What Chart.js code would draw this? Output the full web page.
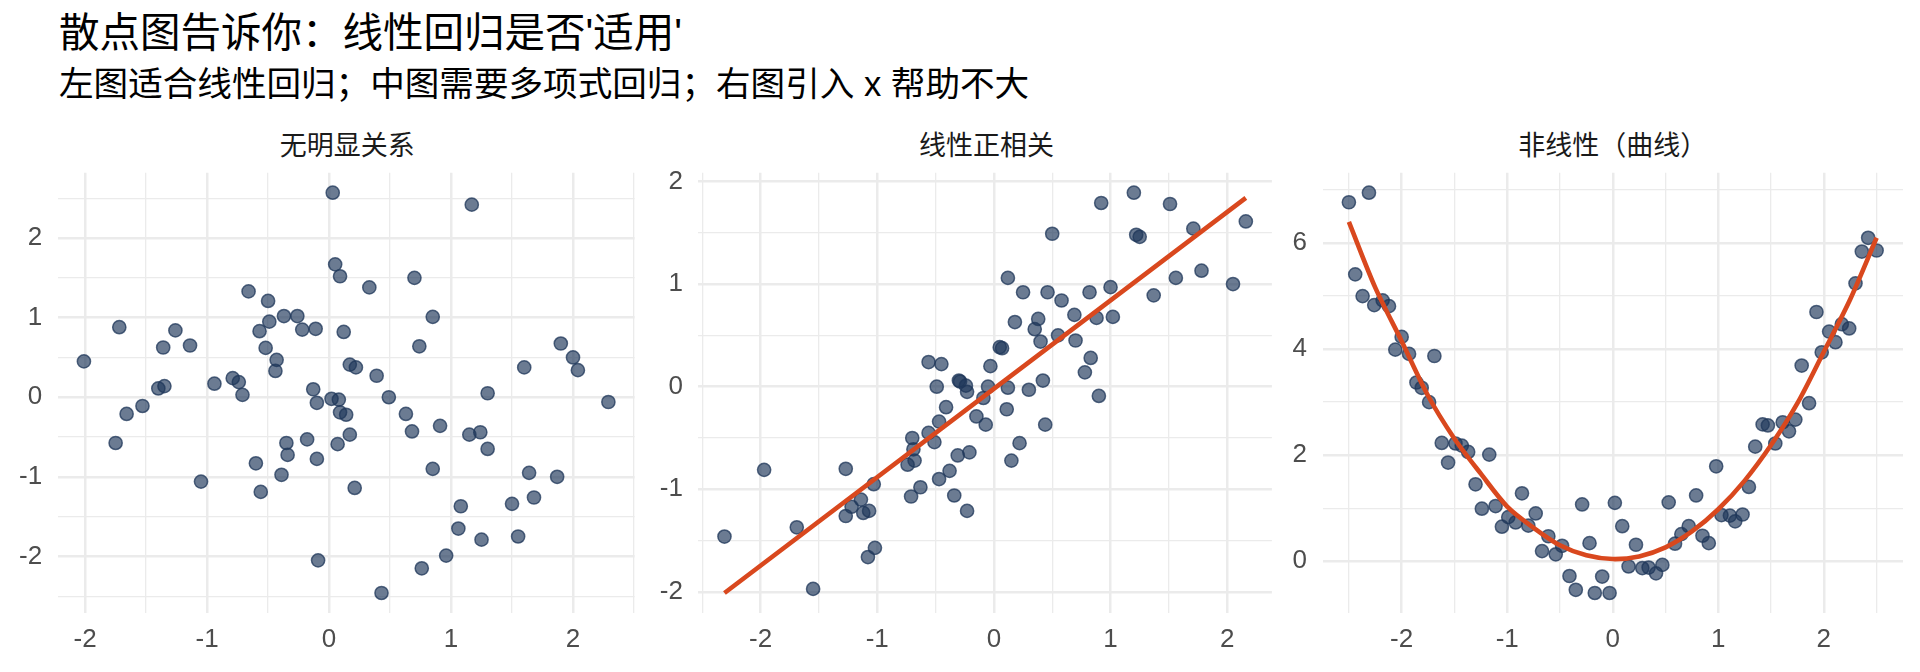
<!DOCTYPE html>
<html>
<head>
<meta charset="utf-8">
<script src="https://cdn.jsdelivr.net/npm/chart.js@4.4.1/dist/chart.umd.min.js"></script>
<style>
  body { margin: 0; width: 1920px; height: 672px; background: #fff; overflow: hidden; position: relative;
         font-family: 'Liberation Sans', 'Noto Sans CJK SC', sans-serif; }
  .t { position: absolute; white-space: nowrap; line-height: 1; }
  .strip { text-align: center; font-size: 27px; color: #1a1a1a; top: 133px; }
  canvas { position: absolute; top: 140px; }
</style>
</head>
<body>
<div class="t" style="left:59px;top:12.5px;font-size:40.5px;color:#000">散点图告诉你：线性回归是否'适用'</div>
<div class="t" style="left:59px;top:67px;font-size:34.6px;color:#000">左图适合线性回归；中图需要多项式回归；右图引入 x 帮助不大</div>
<div class="t strip" id="s1" style="left:57.7px;width:579.3px"></div>
<div class="t strip" id="s2" style="left:698.4px;width:576.1px"></div>
<div class="t strip" id="s3" style="left:1322.5px;width:580.5px"></div>

<canvas id="c1" width="645" height="532" style="left:0px"></canvas>
<canvas id="c2" width="635" height="532" style="left:645px"></canvas>
<canvas id="c3" width="640" height="532" style="left:1280px"></canvas>

<script>
// 面板标题
const panelTitles = ['无明显关系', '线性正相关', '非线性（曲线）'];

// 左图：无明显关系
const x1 = [0.03, 1.17, 0.05, 0.09, 0.70, 0.33, -0.66, -0.50, -0.49, -0.37, -0.26, 0.85, -1.72, -1.26, -0.57, -0.22, -0.11, 0.12,
  -1.36, -1.14, -0.52, 0.74, 1.90, -2.01, 2.00, -0.43, -0.44, 1.60, 0.17, 0.22, 2.04, 0.39, -0.79, -0.74, -0.94, -1.40, -1.35,
  -0.71, -0.13, 1.30, 0.49, 0.02, 0.08, -0.10, 2.29, -1.53, -1.66, 0.63, 0.09, 0.14, 0.91, 0.68, 1.15, 1.24, 0.17, -1.75, -0.35,
  -0.18, 0.07, 1.30, -0.34, -0.10, -0.60, 0.85, -0.39, 1.64, 1.87, -1.05, 0.21, -0.56, 1.68, 1.50, 1.08, 1.06, 1.55, 1.25, 0.96,
  -0.09, 0.76, 0.43];
const y1 = [2.57, 2.42, 1.67, 1.52, 1.50, 1.38, 1.33, 1.21, 0.95, 1.02, 1.02, 1.01, 0.88, 0.84, 0.83, 0.85, 0.86, 0.82,
  0.625, 0.65, 0.62, 0.64, 0.675, 0.45, 0.50, 0.47, 0.33, 0.375, 0.41, 0.375, 0.34, 0.27, 0.24, 0.19, 0.17, 0.11, 0.14,
  0.03, 0.10, 0.05, 0.00, -0.02, -0.03, -0.07, -0.06, -0.11, -0.21, -0.21, -0.19, -0.22, -0.36, -0.43, -0.47, -0.44, -0.47, -0.575, -0.575,
  -0.53, -0.59, -0.65, -0.725, -0.775, -0.83, -0.90, -0.975, -0.95, -1.00, -1.06, -1.14, -1.19, -1.26, -1.34, -1.37, -1.65, -1.75, -1.79, -1.99,
  -2.05, -2.15, -2.46];

// 中图：线性正相关
const x2 = [1.20, 0.92, 1.51, 2.16, 1.71, 0.50, 1.22, 1.25, 1.78, 1.56, 0.12, 2.05, 1.00, 0.82, 0.25, 0.46, 1.37, 0.58, 0.69, 0.88,
  1.02, 0.38, 0.18, 0.35, 0.55, 0.70, 0.40, 0.05, 0.07, 0.83, -0.56, -0.45, -0.03, 0.78, -0.30, -0.29, -0.24, -0.23, -0.49, -0.05,
  0.12, 0.42, 0.30, -0.09, 0.90, -0.41, 0.11,
  -0.15, -0.07, 0.44, -0.47, -0.56, -0.70, -0.51, 0.22, -0.69, -0.21, -0.31, -0.68, -0.74, 0.15, -1.97, -1.27, -0.38, -0.47, -1.03,
  -0.63, -0.71, -0.34, -1.14, -1.22, -1.07, -1.12, -1.27, -0.23, -1.69, -2.31, -1.02, -1.08, -1.55];
const y2 = [1.89, 1.79, 1.78, 1.61, 1.54, 1.49, 1.48, 1.46, 1.13, 1.06, 1.06, 1.00, 0.97, 0.92, 0.92, 0.92, 0.89, 0.84, 0.70, 0.67,
  0.68, 0.66, 0.63, 0.56, 0.50, 0.45, 0.44, 0.385, 0.375, 0.28, 0.24, 0.22, 0.20, 0.14, 0.06, 0.05, 0.01, -0.05, 0.00, 0.00,
  -0.01, 0.06, -0.03, -0.11, -0.09, -0.20, -0.22,
  -0.29, -0.37, -0.37, -0.34, -0.45, -0.50, -0.54, -0.55, -0.61, -0.64, -0.67, -0.72, -0.76, -0.72, -0.81, -0.80, -0.82, -0.90, -0.95,
  -0.98, -1.07, -1.06, -1.10, -1.17, -1.21, -1.23, -1.26, -1.21, -1.37, -1.46, -1.57, -1.66, -1.97];
// 回归直线两端
const fitX2 = [-2.31, 2.16];
const fitY2 = [-2.01, 1.84];

// 右图：非线性（曲线）
const x3 = [-2.50, -2.31, -2.44, -2.37, -2.26, -2.18, -2.12, -2.00, -2.06, -1.93, -1.69, -1.86, -1.81, -1.74, 2.42, 2.36, 2.50, 2.30,
  1.93, 2.17, 2.24, 2.05, 2.11, 1.98, 1.79, 1.86,
  1.42, 1.47, 1.61, 1.73, 1.67, 1.54, 1.35, -1.62, -1.49, -1.43, -1.37, -1.17, -1.56, 0.98, -1.30, 1.29, -0.86, 0.79, -0.29, 0.02,
  0.53, -1.24, -1.11, -0.73, 1.03, 1.11, 1.23, 1.16, -0.99, -0.92, -0.80, -1.05, 0.09, 0.72, 0.65, 0.85, 0.91, 0.59, -0.61, -0.48,
  -0.22, 0.22, -0.67, -0.54, 0.15, 0.28, 0.34, 0.47, 0.41, -0.41, -0.10, -0.35, -0.17, -0.03];
const y3 = [6.77, 6.95, 5.41, 5.00, 4.83, 4.92, 4.81, 4.23, 3.99, 3.91, 3.87, 3.37, 3.27, 3.00, 6.10, 5.84, 5.86, 5.24,
  4.70, 4.47, 4.39, 4.33, 4.13, 3.94, 3.69, 2.98,
  2.58, 2.56, 2.62, 2.67, 2.45, 2.22, 2.16, 2.23, 2.22, 2.18, 2.06, 2.01, 1.86, 1.79, 1.45, 1.40, 1.28, 1.24, 1.07, 1.10,
  1.11, 0.99, 1.04, 0.90, 0.87, 0.86, 0.88, 0.75, 0.83, 0.73, 0.67, 0.65, 0.66, 0.66, 0.51, 0.48, 0.34, 0.33, 0.47, 0.29,
  0.34, 0.31, 0.19, 0.13, -0.10, -0.13, -0.12, -0.07, -0.23, -0.28, -0.29, -0.54, -0.60, -0.60];
// 二次拟合曲线
const curveX3 = [-2.5, -2.25, -2, -1.75, -1.5, -1.25, -1, -0.75, -0.5, -0.25, 0, 0.25, 0.5, 0.75, 1, 1.25, 1.5, 1.75, 2, 2.25, 2.5];
const curveY3 = [6.40, 5.16, 4.15, 3.12, 2.31, 1.65, 1.03, 0.63, 0.30, 0.11, 0.04, 0.09, 0.26, 0.56, 0.98, 1.52, 2.19, 2.98, 3.95, 4.94, 6.10];

const toPts = (xs, ys) => xs.map((x, i) => ({ x: x, y: ys[i] }));

// ggplot 默认 5% 扩展
function range(vals) {
  const lo = Math.min(...vals), hi = Math.max(...vals);
  const pad = (hi - lo) * 0.05;
  return [lo - pad, hi + pad];
}

const isMajor = (v, step) => Math.abs(v / step - Math.round(v / step)) < 1e-6;

function axis(r, major, fitFn, pad) {
  const minor = major / 2;
  return {
    type: 'linear',
    min: r[0],
    max: r[1],
    afterFit: fitFn,
    // 网格线放在 minor 步长的整数倍上
    afterBuildTicks: s => {
      const ticks = [];
      for (let k = Math.ceil(s.min / minor - 1e-9); k * minor <= s.max + 1e-9; k++) {
        ticks.push({ value: Math.round(k * minor * 1000) / 1000 });
      }
      s.ticks = ticks;
    },
    border: { display: false },
    grid: {
      color: '#ebebeb',
      drawTicks: false,
      lineWidth: c => isMajor(c.tick.value, major) ? 2.5 : 1.3
    },
    ticks: {
      autoSkip: false,
      maxRotation: 0,
      padding: pad,
      color: '#4d4d4d',
      font: { size: 26 },
      callback: v => isMajor(v, major) ? String(Math.round(v)) : ''
    }
  };
}

function panel(id, pts, line, xr, yr, yMajor, yAxisW, padRight) {
  return new Chart(document.getElementById(id), {
    type: 'scatter',
    data: {
      datasets: [
        {
          type: 'line',
          data: line || [],
          borderColor: '#d9481e',
          borderWidth: 4.6,
          pointRadius: 0,
          tension: 0.3,
          fill: false,
          order: 0
        },
        {
          data: pts,
          backgroundColor: 'rgba(31,55,90,0.66)',
          borderColor: 'rgba(31,55,90,0.75)',
          borderWidth: 1.5,
          pointRadius: 6.6,
          order: 1
        }
      ]
    },
    options: {
      responsive: false,
      animation: false,
      events: [],
      layout: { padding: { top: 32.7, right: padRight, left: 0, bottom: 0 } },
      plugins: { legend: { display: false }, tooltip: { enabled: false } },
      scales: {
        x: axis(xr, 1, s => { s.height = 59; }, 11),
        y: axis(yr, yMajor, s => { s.width = yAxisW; }, 15.5)
      }
    }
  });
}

Chart.defaults.font.family = "'Liberation Sans', 'Noto Sans CJK SC', sans-serif";

['s1', 's2', 's3'].forEach((id, i) => { document.getElementById(id).textContent = panelTitles[i]; });

panel('c1', toPts(x1, y1), null, range(x1), range(y1), 1, 57.7, 8);
panel('c2', toPts(x2, y2), toPts(fitX2, fitY2), range(x2), range(y2.concat(fitY2)), 1, 53.4, 5.5);
panel('c3', toPts(x3, y3), toPts(curveX3, curveY3), range(x3), range(y3.concat(curveY3)), 2, 42.5, 17);
</script>
</body>
</html>
